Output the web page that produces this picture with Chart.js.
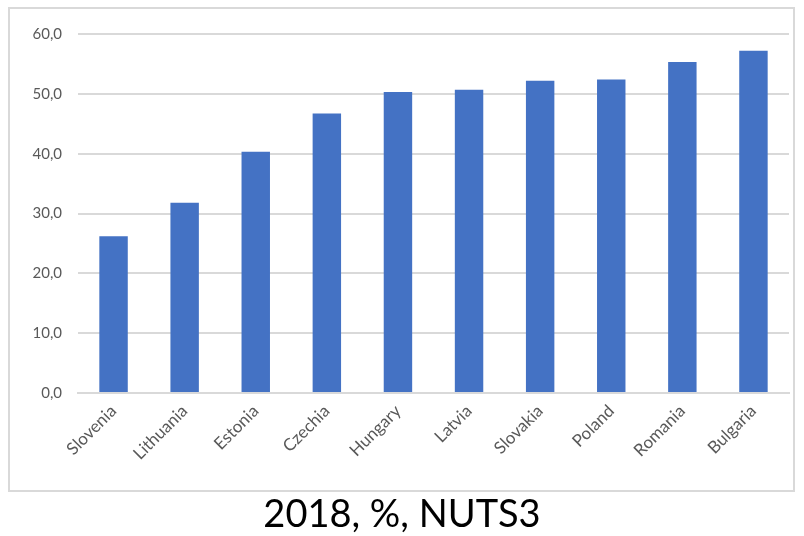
<!DOCTYPE html>
<html>
<head>
<meta charset="utf-8">
<script src="https://cdn.jsdelivr.net/npm/chart.js@4.4.0/dist/chart.umd.min.js"></script>
<style>
  body { margin: 0; background: #fff; width: 804px; height: 536px; overflow: hidden; }
  #box { position: absolute; left: 8px; top: 7px; width: 783px; height: 481px; border: 2px solid #d9d9d9; }
  #title { position: absolute; left: 0; top: 489px; width: 804px; text-align: center;
           font-family: Lato, sans-serif; font-size: 38px; color: #000; }
</style>
</head>
<body>
<div id="box"><canvas id="myChart" width="783" height="481"></canvas></div>
<div id="title">2018, %, NUTS3</div>
<script>
var countries = ["Slovenia", "Lithuania", "Estonia", "Czechia", "Hungary", "Latvia", "Slovakia", "Poland", "Romania", "Bulgaria"];
var values = [26.2, 31.8, 40.3, 46.7, 50.3, 50.7, 52.2, 52.4, 55.3, 57.2];
var yTicks = [0, 10, 20, 30, 40, 50, 60];

document.addEventListener("DOMContentLoaded", function(){
var ctx = document.getElementById("myChart");
var myChart = new Chart(ctx, {
  type: 'bar',
  data: {
    labels: countries,
    datasets: [{
      data: values,
      backgroundColor: "#4472C4",
      barPercentage: 0.4,
      categoryPercentage: 1.0
    }]
  },
  options: {
    responsive: false,
    animation: false,
    layout: { padding: { top: 15, right: 4, left: 0, bottom: 0 } },
    plugins: { legend: { display: false }, tooltip: { enabled: false } },
    scales: {
      x: {
        grid: { display: false, drawTicks: false },
        border: { color: "#d9d9d9", width: 2 },
        ticks: { color: "#595959", font: { family: "Lato", size: 17 }, maxRotation: 45, minRotation: 45, padding: 8 },
        afterFit: function(scale){ scale.height = 97; }
      },
      y: {
        min: 0, max: 60,
        afterBuildTicks: function(scale){ scale.ticks = yTicks.map(function(v){ return {value: v}; }); },
        grid: { color: "#d9d9d9", lineWidth: 2, drawTicks: false },
        border: { display: false },
        ticks: {
          color: "#595959", font: { family: "Lato", size: 15 }, padding: 16,
          callback: function(v){ return v.toFixed(1).replace(".", ","); }
        },
        afterFit: function(scale){ scale.width = 68; }
      }
    }
  }
});
}, false);
</script>
</body>
</html>
